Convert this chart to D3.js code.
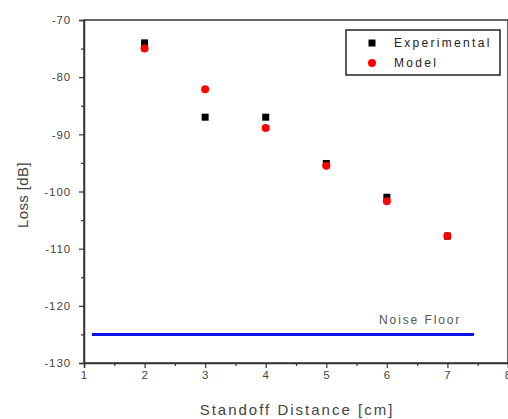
<!DOCTYPE html>
<html>
<head>
<meta charset="utf-8">
<script src="https://cdn.jsdelivr.net/npm/d3@7"></script>
<style>
  html, body { margin: 0; padding: 0; background: #fff; }
  svg { display: block; font-family: "Liberation Sans", Arial, sans-serif; }
</style>
</head>
<body>
<svg id="chart" width="508" height="419"></svg>
<script>
// Standoff distance (cm) and measured / modelled loss (dB)
const distances = [2, 3, 4, 5, 6, 7];
const experimental = [-74.0, -87.0, -87.0, -95.1, -101.0, -107.8];
const model = [-75.0, -82.1, -88.9, -95.5, -101.7, -107.8];
const noiseFloor = -125;
const noiseFloorSpan = [1.13, 7.44];
const xTicks = [1, 2, 3, 4, 5, 6, 7, 8];
const yTicks = [-70, -80, -90, -100, -110, -120, -130];
const seriesNames = ["Experimental", "Model"];

const svg = d3.select("#chart");
const margin = { left: 84, right: 0, top: 20, bottom: 56 };
const W = 508, H = 419;

const x = d3.scaleLinear().domain([1, 8]).range([margin.left, W - margin.right]);
const y = d3.scaleLinear().domain([-130, -70]).range([H - margin.bottom, margin.top]);

const axisColor = "#333";
const textColor = "#444";

// frame
svg.append("rect")
  .attr("x", x(1)).attr("y", y(-70))
  .attr("width", x(8) - x(1)).attr("height", y(-130) - y(-70))
  .attr("fill", "none").attr("stroke", axisColor).attr("stroke-width", 1.5);

// bottom axis
svg.append("g")
  .attr("transform", `translate(0,${y(-130)})`)
  .call(d3.axisBottom(x).tickValues(xTicks).tickFormat(d3.format("d")).tickSize(5).tickPadding(3));
svg.append("g")
  .attr("transform", `translate(0,${y(-130)})`)
  .call(d3.axisBottom(x).tickValues(d3.range(1.5, 8, 1)).tickFormat("").tickSize(3))
  .call(g => g.select(".domain").remove());

// left axis
svg.append("g")
  .attr("transform", `translate(${x(1)},0)`)
  .call(d3.axisLeft(y).tickValues(yTicks).tickFormat(d => d3.format("d")(d).replace("\u2212", "-")).tickSize(5).tickPadding(8));
svg.append("g")
  .attr("transform", `translate(${x(1)},0)`)
  .call(d3.axisLeft(y).tickValues(d3.range(-125, -70, 10)).tickFormat("").tickSize(3))
  .call(g => g.select(".domain").remove());

svg.selectAll(".domain").attr("stroke", axisColor).attr("stroke-width", 1.5);
svg.selectAll(".tick line").attr("stroke", axisColor).attr("stroke-width", 1.2);
svg.selectAll(".tick text")
  .attr("fill", textColor)
  .style("font-size", "11.5px")
  .style("letter-spacing", "0.9px")
  .style("font-family", "'Liberation Sans', Arial, sans-serif");

// axis titles
svg.append("text")
  .attr("x", 297).attr("y", 415)
  .attr("text-anchor", "middle")
  .attr("fill", textColor)
  .style("font-size", "15px").style("letter-spacing", "2px")
  .text("Standoff Distance [cm]");

svg.append("text")
  .attr("transform", `translate(28,${195}) rotate(-90)`)
  .attr("text-anchor", "middle")
  .attr("fill", textColor)
  .style("font-size", "15px").style("letter-spacing", "0.4px")
  .text("Loss [dB]");

// noise floor
svg.append("line")
  .attr("x1", x(noiseFloorSpan[0])).attr("x2", x(noiseFloorSpan[1]))
  .attr("y1", y(noiseFloor)).attr("y2", y(noiseFloor))
  .attr("stroke", "#0a14e6").attr("stroke-width", 3);
svg.append("text")
  .attr("x", 379).attr("y", y(noiseFloor) - 10)
  .attr("fill", "#555")
  .style("font-size", "12px").style("letter-spacing", "1.9px")
  .text("Noise Floor");

// experimental points (squares)
const sq = 7;
svg.append("g").selectAll("rect")
  .data(distances.map((d, i) => [d, experimental[i]]))
  .join("rect")
  .attr("x", d => x(d[0]) - sq / 2).attr("y", d => y(d[1]) - sq / 2)
  .attr("width", sq).attr("height", sq)
  .attr("fill", "#000");

// model points (circles)
svg.append("g").selectAll("circle")
  .data(distances.map((d, i) => [d, model[i]]))
  .join("circle")
  .attr("cx", d => x(d[0])).attr("cy", d => y(d[1]))
  .attr("r", 4)
  .attr("fill", "#f00");

// legend
const lg = svg.append("g");
lg.append("rect")
  .attr("x", 346).attr("y", 30).attr("width", 154).attr("height", 45)
  .attr("fill", "#fff").attr("stroke", "#222").attr("stroke-width", 1.5);
lg.append("rect").attr("x", 372 - sq / 2).attr("y", 43 - sq / 2).attr("width", sq).attr("height", sq).attr("fill", "#000");
lg.append("circle").attr("cx", 372).attr("cy", 63).attr("r", 4).attr("fill", "#f00");
lg.selectAll("text")
  .data(seriesNames)
  .join("text")
  .attr("x", 394).attr("y", (d, i) => 47 + i * 20)
  .attr("fill", "#222")
  .style("font-size", "12px").style("letter-spacing", "2.3px")
  .text(d => d);
</script>
</body>
</html>
